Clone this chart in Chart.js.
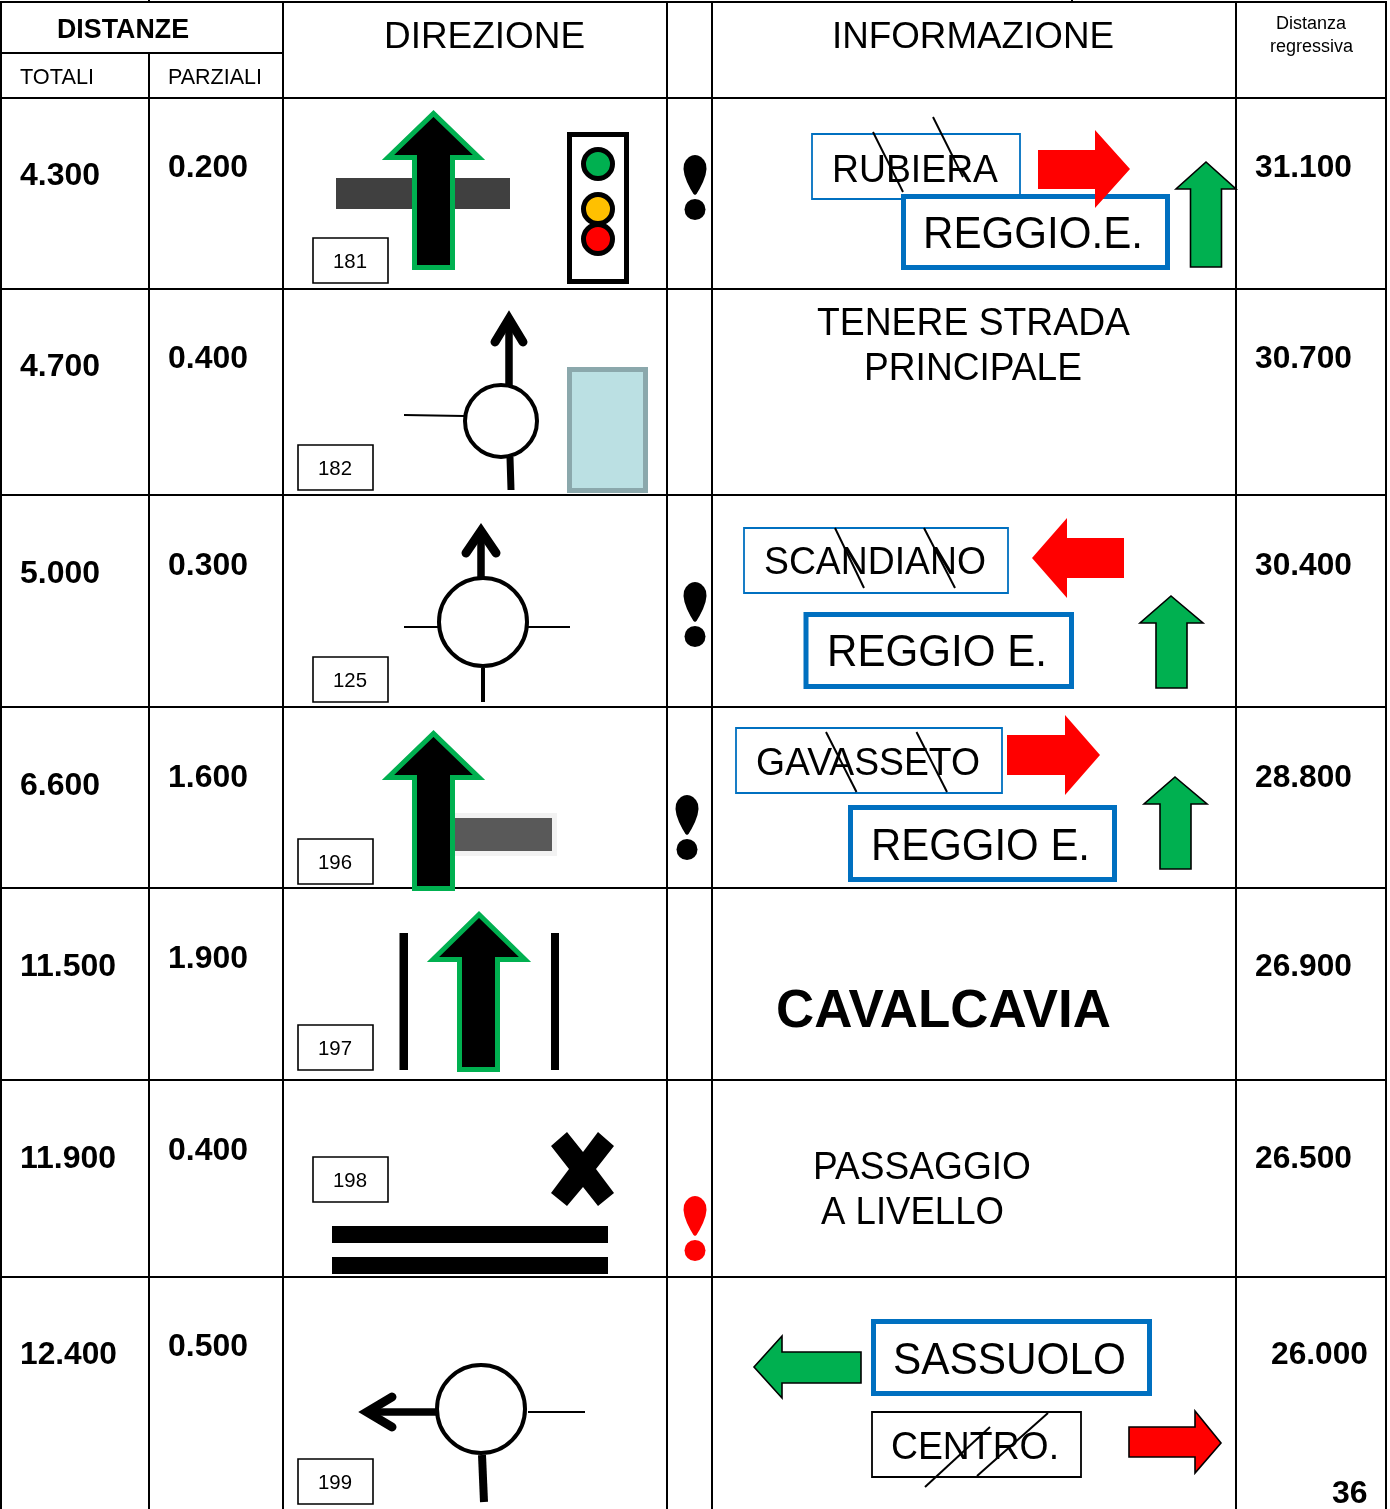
<!DOCTYPE html>
<html>
<head>
<meta charset="utf-8">
<title>Distanze</title>
<script src="https://cdn.jsdelivr.net/npm/chart.js@4"></script>
<style>
  html, body { margin: 0; padding: 0; background: #fff; }
  #wrap { width: 1390px; height: 1509px; }
</style>
</head>
<body>
<div id="wrap"><canvas id="sheet" width="1390" height="1509"></canvas></div>
<script>
/* ── Table values ── */
const totali     = ['4.300', '4.700', '5.000', '6.600', '11.500', '11.900', '12.400'];
const parziali   = ['0.200', '0.400', '0.300', '1.600', '1.900', '0.400', '0.500'];
const regressiva = ['31.100', '30.700', '30.400', '28.800', '26.900', '26.500', '26.000'];
const strade     = ['181', '182', '125', '196', '197', '198', '199'];
const pagina     = '36';

/* ── Sheet layout, in axis units ── */
const colEdges = [1, 283, 667, 712, 1236, 1386];
const rowEdges = [2, 98, 289, 495, 707, 888, 1080, 1277];
const totaliY  = [174, 365, 572, 784, 965, 1157, 1353];
const parzialiY = [166, 357, 564, 776, 957, 1149, 1345];
const regressivaY = [166, 357, 564, 776, 965, 1157, 1353];
const regressivaX = [1255, 1255, 1255, 1255, 1255, 1255, 1271];
const stradaBoxX = [313, 298, 313, 298, 298, 313, 298];
const stradaBoxY = [238, 445, 657, 839, 1025, 1157, 1459];

const GREEN = '#00B050';
const RED = '#FF0000';
const BLUE = '#0070C0';
const FONT = '"Liberation Sans", Arial, sans-serif';

/* ── Dataset helpers ── */
const datasets = [];

function pts(list) {
  return list.map(p => ({ x: p[0], y: p[1] }));
}

function line(list, color, width, extra) {
  datasets.push(Object.assign({
    data: pts(list), showLine: true, fill: false, pointRadius: 0,
    borderColor: color, borderWidth: width, borderJoinStyle: 'miter', borderCapStyle: 'butt'
  }, extra));
}

function shape(list, fillColor, strokeColor, width) {
  const closed = list.concat([list[0], list[1]]);
  datasets.push({
    data: pts(closed), showLine: true, fill: 'shape', pointRadius: 0,
    backgroundColor: fillColor, borderColor: strokeColor || fillColor,
    borderWidth: strokeColor ? width : 0, borderJoinStyle: 'miter'
  });
}

function box(x1, y1, x2, y2, fillColor, strokeColor, width) {
  shape([[x1, y1], [x2, y1], [x2, y2], [x1, y2]], fillColor, strokeColor, width);
}

function dot(x, y, radius, fillColor, strokeColor, width) {
  datasets.push({
    data: [{ x, y }], showLine: false, pointStyle: 'circle', pointRadius: radius,
    pointBackgroundColor: fillColor, pointBorderColor: strokeColor || fillColor,
    pointBorderWidth: width || 0
  });
}

function upArrow(cx, tip, head, bottom, headLeft, headRight, shaftLeft, shaftRight, fillColor, strokeColor, width) {
  shape([[cx, tip], [headRight, head], [shaftRight, head], [shaftRight, bottom],
         [shaftLeft, bottom], [shaftLeft, head], [headLeft, head]], fillColor, strokeColor, width);
}

function rightArrow(left, headX, tipX, tipY, headTop, headBottom, shaftTop, shaftBottom, fillColor, strokeColor, width) {
  shape([[left, shaftTop], [headX, shaftTop], [headX, headTop], [tipX, tipY],
         [headX, headBottom], [headX, shaftBottom], [left, shaftBottom]], fillColor, strokeColor, width);
}

function attention(cx, top, color) {
  const half = [[3, 0.5], [6, 2], [9, 5], [11, 9], [11.5, 14], [10.5, 20], [8, 27], [4.5, 34], [1.5, 39]];
  const drop = [[0, 0]].concat(half, [[0, 40]], half.slice().reverse().map(p => [-p[0], p[1]]));
  shape(drop.map(p => [cx + p[0], top + p[1]]), color);
  dot(cx, top + 54.5, 10.5, color);
}

function signBox(x1, y1, x2, y2) {
  box(x1 + 2.5, y1 + 2.5, x2 - 2.5, y2 - 2.5, '#FFFFFF', BLUE, 5);
}

function strike(a, b, c, d) {
  line([a, b], '#000000', 2);
  line([c, d], '#000000', 2);
}

/* ── Grid parts the axes cannot draw ── */
box(0, 0, 1390, 1, '#FFFFFF');
box(1387, 0, 1390, 1509, '#FFFFFF');
line([[1, 53], [283, 53]], '#000000', 2);
line([[149, 53], [149, 1509]], '#000000', 2);
line([[149, 0], [149, 2]], '#000000', 2);
line([[1072, 0], [1072, 2]], '#000000', 2);

/* ── Road number boxes ── */
strade.forEach((s, i) => {
  box(stradaBoxX[i], stradaBoxY[i], stradaBoxX[i] + 75, stradaBoxY[i] + 45, '#FFFFFF', '#000000', 1.6);
});

/* ── Row 1 ── */
box(336, 178, 510, 209, '#404040');
upArrow(433.5, 113.5, 157.5, 267.5, 388, 479, 414.5, 452.5, '#000000', GREEN, 5);
box(569.5, 134.5, 626.5, 281.5, '#FFFFFF', '#000000', 5);
dot(598, 164, 14.5, GREEN, '#000000', 5);
dot(598, 209, 14.5, '#FFC000', '#000000', 5);
dot(598, 239, 14.5, RED, '#000000', 5);
attention(695, 155, '#000000');
box(812, 134, 1020, 199, '#FFFFFF', BLUE, 1.8);
strike([873, 132], [903, 192], [933, 117], [963, 177]);
signBox(901, 194, 1170, 270);
rightArrow(1038, 1095, 1130, 169, 130, 208, 150, 189, RED);
upArrow(1206, 162, 189, 267, 1176, 1236, 1190.5, 1221.5, GREEN, '#000000', 1.6);

/* ── Row 2 ── */
line([[509, 319], [509, 386]], '#000000', 7.5);
line([[495, 342], [509, 319], [523, 342]], '#000000', 9, { borderCapStyle: 'round' });
line([[404, 415], [464, 416]], '#000000', 2);
line([[510, 457], [511, 490]], '#000000', 7);
dot(501, 421, 36, '#FFFFFF', '#000000', 4);
box(569.5, 369.5, 645.5, 490.5, '#BBE0E3', '#8BA8AC', 5);

/* ── Row 3 ── */
line([[481, 531], [481, 578]], '#000000', 7.5);
line([[466, 553], [481, 531], [496, 553]], '#000000', 9, { borderCapStyle: 'round' });
line([[404, 627], [438, 627]], '#000000', 2);
line([[528, 627], [570, 627]], '#000000', 2);
line([[483, 668], [483, 702]], '#000000', 4);
dot(483, 622, 44, '#FFFFFF', '#000000', 4);
attention(695, 582, '#000000');
box(744, 528, 1008, 593, '#FFFFFF', BLUE, 1.8);
strike([835, 528], [864, 588], [924, 528], [955, 588]);
rightArrow(1124, 1067, 1032, 558, 518, 598, 538, 578, RED);
signBox(803.5, 612, 1074, 689);
upArrow(1171, 596, 623, 688, 1140, 1203, 1156, 1187, GREEN, '#000000', 1.6);

/* ── Row 4 ── */
box(450, 813, 557, 856, '#F2F2F2');
box(450, 818, 552, 851, '#595959');
upArrow(433.5, 733.5, 777.5, 888.5, 388, 479, 414.5, 452.5, '#000000', GREEN, 5);
attention(687, 795, '#000000');
box(736, 728, 1002, 793, '#FFFFFF', BLUE, 1.8);
strike([826, 732], [856.5, 792], [916.5, 732], [947, 792]);
rightArrow(1007, 1065, 1100, 755, 715, 795, 735, 775, RED);
signBox(848, 805, 1117, 882);
upArrow(1175, 777, 804, 869, 1144, 1207, 1160, 1191, GREEN, '#000000', 1.6);

/* ── Row 5 ── */
box(399.5, 933, 408, 1070, '#000000');
box(551, 933, 559, 1070, '#000000');
upArrow(479, 914.5, 959.5, 1069.5, 433, 525, 459.5, 497.5, '#000000', GREEN, 5);

/* ── Row 6 ── */
shape([[567, 1132], [583, 1152], [598, 1132], [614, 1146], [596, 1169], [614, 1193],
       [598, 1206], [583, 1187], [567, 1206], [551, 1193], [569, 1169], [551, 1146]], '#000000');
box(332, 1226, 608, 1243, '#000000');
box(332, 1257, 608, 1274, '#000000');
attention(695, 1196, RED);

/* ── Row 7 ── */
line([[367, 1412], [436, 1412]], '#000000', 7.5);
line([[392, 1397], [367, 1412], [392, 1427]], '#000000', 9, { borderCapStyle: 'round' });
line([[528, 1412], [585, 1412]], '#000000', 2);
line([[482, 1455], [484, 1502]], '#000000', 8);
dot(481, 1409, 44, '#FFFFFF', '#000000', 4);
signBox(871, 1319, 1152, 1396);
rightArrow(861, 782, 754, 1367, 1336, 1398, 1352, 1383, GREEN, '#000000', 1.6);
box(872, 1412, 1081, 1477, '#FFFFFF', '#000000', 1.8);
strike([925, 1487], [990, 1427], [977, 1476], [1048, 1413]);
rightArrow(1129, 1195, 1221, 1443, 1411, 1473, 1427, 1457, RED, '#000000', 1.6);

/* ── Text: string, x, baseline, size, bold, max width ── */
const texts = [
  ['DISTANZE', 57, 38, 27, true, 132],
  ['TOTALI', 20, 84, 22, false, 74],
  ['PARZIALI', 168, 84, 22, false, 94],
  ['DIREZIONE', 384, 48, 37, false, 201],
  ['INFORMAZIONE', 832, 48, 37, false, 282],
  ['Distanza', 1276, 29, 18, false, 71],
  ['regressiva', 1270, 52, 18, false, 84],
  ['RUBIERA', 832, 182, 38, false, 166],
  ['REGGIO.E.', 923, 248, 44, false, 220],
  ['TENERE STRADA', 817, 335, 38, false, 313],
  ['PRINCIPALE', 864, 380, 38, false, 218],
  ['SCANDIANO', 764, 574, 38, false, 222],
  ['REGGIO E.', 827, 666, 44, false, 220],
  ['GAVASSETO', 756, 775, 38, false, 224],
  ['REGGIO E.', 871, 860, 44, false, 219],
  ['CAVALCAVIA', 776, 1027, 53, true, 335],
  ['PASSAGGIO', 813, 1179, 38, false, 218],
  ['A LIVELLO', 821, 1224, 38, false, 183],
  ['SASSUOLO', 893, 1374, 44, false, 233],
  ['CENTRO.', 891, 1459, 38, false, 168],
  [pagina, 1332, 1503, 32, true, 36]
];

totali.forEach((v, i) => texts.push([v, 20, totaliY[i] + 11, 32, true, 97]));
parziali.forEach((v, i) => texts.push([v, 168, parzialiY[i] + 11, 32, true, 80]));
regressiva.forEach((v, i) => texts.push([v, regressivaX[i], regressivaY[i] + 11, 32, true, 97]));
strade.forEach((s, i) => texts.push([s, stradaBoxX[i] + 20, stradaBoxY[i] + 30, 21, false, 34]));

const sheetText = {
  id: 'sheetText',
  afterDatasetsDraw(chart) {
    const { ctx, scales } = chart;
    ctx.save();
    ctx.fillStyle = '#000000';
    ctx.textAlign = 'left';
    ctx.textBaseline = 'alphabetic';
    texts.forEach(t => {
      ctx.font = (t[4] ? 'bold ' : '') + t[3] + 'px ' + FONT;
      ctx.fillText(t[0], scales.x.getPixelForValue(t[1]), scales.y.getPixelForValue(t[2]), t[5]);
    });
    ctx.restore();
  }
};

/* ── Chart ── */
new Chart(document.getElementById('sheet'), {
  type: 'scatter',
  // first dataset is painted on top, the lists above go bottom to top
  data: { datasets: datasets.reverse() },
  plugins: [sheetText],
  options: {
    responsive: false,
    animation: false,
    layout: { padding: 0, autoPadding: false },
    elements: { line: { tension: 0 } },
    plugins: { legend: { display: false }, tooltip: { enabled: false } },
    scales: {
      x: {
        type: 'linear', min: 0, max: 1390,
        afterBuildTicks: axis => { axis.ticks = colEdges.map(v => ({ value: v })); },
        ticks: { display: false, autoSkip: false },
        border: { display: false },
        grid: { color: '#000000', lineWidth: 2, drawTicks: false }
      },
      y: {
        type: 'linear', min: 0, max: 1509, reverse: true,
        afterBuildTicks: axis => { axis.ticks = rowEdges.map(v => ({ value: v })); },
        ticks: { display: false, autoSkip: false },
        border: { display: false },
        grid: { color: '#000000', lineWidth: 2, drawTicks: false }
      }
    }
  }
});
</script>
</body>
</html>
